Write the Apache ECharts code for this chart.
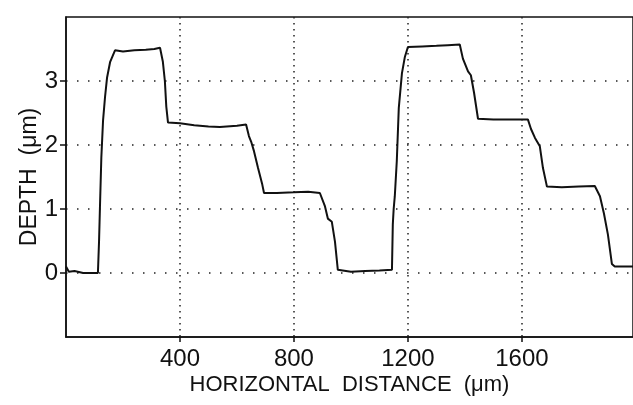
<!DOCTYPE html>
<html>
<head>
<meta charset="utf-8">
<script src="https://cdn.jsdelivr.net/npm/echarts@6/dist/echarts.min.js"></script>
<style>
  html, body { margin: 0; padding: 0; background: #fff; }
  #chart { width: 633px; height: 405px; }
</style>
</head>
<body>
<div id="chart"></div>
<script>
// profile trace (x in um, depth in um)
const distance = [0, 10, 30, 60, 112, 116, 119, 124, 130, 137, 144, 155, 172, 200, 240, 280, 310, 330,
  340, 347, 352, 358, 400, 450, 500, 540, 600, 632, 642, 650, 660, 674, 688, 695,
  740, 800, 850, 891, 909, 919, 933, 944, 954, 961, 1000, 1050, 1100, 1144,
  1147, 1150, 1154, 1161, 1168, 1179, 1189, 1200, 1250, 1300, 1340, 1382,
  1393, 1411, 1421, 1432, 1446, 1500, 1560, 1621, 1632, 1646, 1663, 1674, 1688,
  1740, 1800, 1856, 1874, 1888, 1902, 1916, 1926, 1960, 1990]
const depth = [0.1, 0.02, 0.03, 0.0, 0.0, 0.5, 1.0, 1.8, 2.38, 2.75, 3.05, 3.3, 3.48, 3.46, 3.48, 3.49, 3.5, 3.52,
  3.3, 3.0, 2.6, 2.35, 2.34, 2.31, 2.29, 2.28, 2.3, 2.32, 2.14, 2.05, 1.9, 1.64, 1.4, 1.25,
  1.25, 1.26, 1.27, 1.25, 1.04, 0.85, 0.8, 0.49, 0.05, 0.02, 0.02, 0.03, 0.04, 0.05,
  0.76, 1.0, 1.2, 1.75, 2.58, 3.12, 3.37, 3.53, 3.54, 3.55, 3.56, 3.57,
  3.35, 3.15, 3.09, 2.82, 2.41, 2.4, 2.4, 2.4, 2.25, 2.11, 1.98, 1.64, 1.35,
  1.34, 1.35, 1.36, 1.2, 0.93, 0.6, 0.14, 0.1, 0.1, 0.1]

const xTicks = [400, 800, 1200, 1600]
const yTicks = [0, 1, 2, 3]

const chart = echarts.init(document.getElementById('chart'))
const font = 'Liberation Sans'

chart.setOption({
  animation: false,
  grid: {
    left: 66, right: 0, top: 17, bottom: 68,
    show: true, borderColor: '#111', borderWidth: 1.5, backgroundColor: 'transparent'
  },
  xAxis: {
    type: 'value', min: 0, max: 1990, interval: 400,
    name: 'HORIZONTAL  DISTANCE  (\u03bcm)', nameLocation: 'middle', nameGap: 37,
    nameMoveOverlap: false,
    nameTextStyle: { fontFamily: font, fontSize: 22, color: '#111' },
    axisLine: { onZero: false, lineStyle: { color: '#111', width: 1.5 } },
    axisTick: { show: true, length: 5, customValues: xTicks, lineStyle: { color: '#111', width: 1.5 } },
    axisLabel: {
      margin: 10, fontFamily: font, fontSize: 24, color: '#111', customValues: xTicks,
      formatter: v => String(v)
    },
    splitLine: { show: true, lineStyle: { color: '#222', width: 1.5, type: [1.5, 4.5] } }
  },
  yAxis: {
    type: 'value', min: -1, max: 4, interval: 1,
    name: 'DEPTH  (\u03bcm)', nameLocation: 'middle', nameGap: 25,
    nameMoveOverlap: false,
    nameTextStyle: { fontFamily: font, fontSize: 23, color: '#111' },
    axisLine: { show: true, onZero: false, lineStyle: { color: '#111', width: 1.5 } },
    axisTick: { show: true, length: 6, customValues: yTicks, lineStyle: { color: '#111', width: 1.5 } },
    axisLabel: {
      margin: 8, fontFamily: font, fontSize: 24, color: '#111', customValues: yTicks,
      formatter: v => String(v)
    },
    splitLine: { show: true, lineStyle: { color: '#222', width: 1.5, type: [1.5, 9.5] } }
  },
  series: [{
    type: 'line',
    data: distance.map((x, i) => [x, depth[i]]),
    showSymbol: false,
    lineStyle: { color: '#111', width: 2 }
  }]
})
</script>
</body>
</html>
